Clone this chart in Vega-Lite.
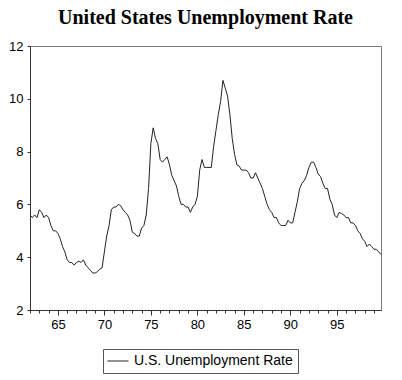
{
  "$schema": "https://vega.github.io/schema/vega-lite/v6.json",
  "width": 351,
  "height": 264,
  "autosize": {"type": "none"},
  "padding": {"left": 30, "top": 46, "right": 21, "bottom": 70},
  "background": "white",
  "title": {
    "text": "United States Unemployment Rate",
    "font": "Liberation Serif",
    "fontSize": 20,
    "fontWeight": "bold",
    "color": "#000",
    "anchor": "middle",
    "offset": 12
  },
  "config": {
    "view": {"stroke": "#777", "strokeWidth": 1},
    "axis": {
      "labelFont": "Liberation Sans",
      "labelFontSize": 13,
      "labelColor": "#000",
      "domainColor": "#333",
      "tickColor": "#333",
      "grid": false,
      "title": null
    }
  },
  "data": {
    "values": [
      {"t": 1962.00, "u": 5.6}, {"t": 1962.25, "u": 5.5}, {"t": 1962.50, "u": 5.6}, {"t": 1962.75, "u": 5.5},
      {"t": 1963.00, "u": 5.8}, {"t": 1963.25, "u": 5.7}, {"t": 1963.50, "u": 5.5}, {"t": 1963.75, "u": 5.6},
      {"t": 1964.00, "u": 5.5}, {"t": 1964.25, "u": 5.2}, {"t": 1964.50, "u": 5.0}, {"t": 1964.75, "u": 5.0},
      {"t": 1965.00, "u": 4.9}, {"t": 1965.25, "u": 4.7}, {"t": 1965.50, "u": 4.4}, {"t": 1965.75, "u": 4.2},
      {"t": 1966.00, "u": 3.9}, {"t": 1966.25, "u": 3.8}, {"t": 1966.50, "u": 3.8}, {"t": 1966.75, "u": 3.7},
      {"t": 1967.00, "u": 3.8}, {"t": 1967.25, "u": 3.85}, {"t": 1967.50, "u": 3.8}, {"t": 1967.75, "u": 3.9},
      {"t": 1968.00, "u": 3.7}, {"t": 1968.25, "u": 3.6}, {"t": 1968.50, "u": 3.5}, {"t": 1968.75, "u": 3.4},
      {"t": 1969.00, "u": 3.4}, {"t": 1969.25, "u": 3.45}, {"t": 1969.50, "u": 3.55}, {"t": 1969.75, "u": 3.6},
      {"t": 1970.00, "u": 4.2}, {"t": 1970.25, "u": 4.8}, {"t": 1970.50, "u": 5.2}, {"t": 1970.75, "u": 5.8},
      {"t": 1971.00, "u": 5.9}, {"t": 1971.25, "u": 5.9}, {"t": 1971.50, "u": 6.0}, {"t": 1971.75, "u": 5.95},
      {"t": 1972.00, "u": 5.8}, {"t": 1972.25, "u": 5.7}, {"t": 1972.50, "u": 5.6}, {"t": 1972.75, "u": 5.4},
      {"t": 1973.00, "u": 4.95}, {"t": 1973.25, "u": 4.9}, {"t": 1973.50, "u": 4.8}, {"t": 1973.75, "u": 4.8},
      {"t": 1974.00, "u": 5.1}, {"t": 1974.25, "u": 5.2}, {"t": 1974.50, "u": 5.6}, {"t": 1974.75, "u": 6.6},
      {"t": 1975.00, "u": 8.3}, {"t": 1975.25, "u": 8.9}, {"t": 1975.50, "u": 8.5}, {"t": 1975.75, "u": 8.3},
      {"t": 1976.00, "u": 7.7}, {"t": 1976.25, "u": 7.6}, {"t": 1976.50, "u": 7.7}, {"t": 1976.75, "u": 7.8},
      {"t": 1977.00, "u": 7.5}, {"t": 1977.25, "u": 7.1}, {"t": 1977.50, "u": 6.9}, {"t": 1977.75, "u": 6.7},
      {"t": 1978.00, "u": 6.3}, {"t": 1978.25, "u": 6.0}, {"t": 1978.50, "u": 6.0}, {"t": 1978.75, "u": 5.9},
      {"t": 1979.00, "u": 5.9}, {"t": 1979.25, "u": 5.7}, {"t": 1979.50, "u": 5.9}, {"t": 1979.75, "u": 6.0},
      {"t": 1980.00, "u": 6.3}, {"t": 1980.25, "u": 7.3}, {"t": 1980.50, "u": 7.7}, {"t": 1980.75, "u": 7.4},
      {"t": 1981.00, "u": 7.4}, {"t": 1981.25, "u": 7.4}, {"t": 1981.50, "u": 7.4}, {"t": 1981.75, "u": 8.2},
      {"t": 1982.00, "u": 8.8}, {"t": 1982.25, "u": 9.4}, {"t": 1982.50, "u": 9.9}, {"t": 1982.75, "u": 10.7},
      {"t": 1983.00, "u": 10.4}, {"t": 1983.25, "u": 10.1}, {"t": 1983.50, "u": 9.4}, {"t": 1983.75, "u": 8.5},
      {"t": 1984.00, "u": 7.9}, {"t": 1984.25, "u": 7.5}, {"t": 1984.50, "u": 7.45}, {"t": 1984.75, "u": 7.3},
      {"t": 1985.00, "u": 7.3}, {"t": 1985.25, "u": 7.3}, {"t": 1985.50, "u": 7.2}, {"t": 1985.75, "u": 7.0},
      {"t": 1986.00, "u": 7.0}, {"t": 1986.25, "u": 7.2}, {"t": 1986.50, "u": 7.0}, {"t": 1986.75, "u": 6.8},
      {"t": 1987.00, "u": 6.6}, {"t": 1987.25, "u": 6.3}, {"t": 1987.50, "u": 6.0}, {"t": 1987.75, "u": 5.8},
      {"t": 1988.00, "u": 5.7}, {"t": 1988.25, "u": 5.5}, {"t": 1988.50, "u": 5.5}, {"t": 1988.75, "u": 5.3},
      {"t": 1989.00, "u": 5.2}, {"t": 1989.25, "u": 5.2}, {"t": 1989.50, "u": 5.2}, {"t": 1989.75, "u": 5.4},
      {"t": 1990.00, "u": 5.3}, {"t": 1990.25, "u": 5.3}, {"t": 1990.50, "u": 5.7}, {"t": 1990.75, "u": 6.1},
      {"t": 1991.00, "u": 6.6}, {"t": 1991.25, "u": 6.8}, {"t": 1991.50, "u": 6.9}, {"t": 1991.75, "u": 7.1},
      {"t": 1992.00, "u": 7.4}, {"t": 1992.25, "u": 7.6}, {"t": 1992.50, "u": 7.6}, {"t": 1992.75, "u": 7.4},
      {"t": 1993.00, "u": 7.15}, {"t": 1993.25, "u": 7.05}, {"t": 1993.50, "u": 6.8}, {"t": 1993.75, "u": 6.6},
      {"t": 1994.00, "u": 6.6}, {"t": 1994.25, "u": 6.2}, {"t": 1994.50, "u": 6.0}, {"t": 1994.75, "u": 5.6},
      {"t": 1995.00, "u": 5.5}, {"t": 1995.25, "u": 5.7}, {"t": 1995.50, "u": 5.65}, {"t": 1995.75, "u": 5.6},
      {"t": 1996.00, "u": 5.5}, {"t": 1996.25, "u": 5.5}, {"t": 1996.50, "u": 5.3}, {"t": 1996.75, "u": 5.3},
      {"t": 1997.00, "u": 5.2}, {"t": 1997.25, "u": 5.0}, {"t": 1997.50, "u": 4.9}, {"t": 1997.75, "u": 4.7},
      {"t": 1998.00, "u": 4.6}, {"t": 1998.25, "u": 4.4}, {"t": 1998.50, "u": 4.5}, {"t": 1998.75, "u": 4.4},
      {"t": 1999.00, "u": 4.3}, {"t": 1999.25, "u": 4.3}, {"t": 1999.50, "u": 4.2}, {"t": 1999.75, "u": 4.1}
    ]
  },
  "mark": {"type": "line", "strokeWidth": 1, "interpolate": "linear"},
  "encoding": {
    "x": {
      "field": "t",
      "type": "quantitative",
      "scale": {"domain": [1962, 1999.75], "nice": false, "zero": false},
      "axis": {
        "values": [1962,1963,1964,1965,1966,1967,1968,1969,1970,1971,1972,1973,1974,1975,1976,1977,1978,1979,1980,1981,1982,1983,1984,1985,1986,1987,1988,1989,1990,1991,1992,1993,1994,1995,1996,1997,1998,1999],
        "labelExpr": "datum.value % 5 === 0 ? '' + (datum.value - 1900) : ''",
        "tickSize": {"condition": {"test": "datum.value % 5 === 0", "value": 5}, "value": 3},
        "labelPadding": 3,
        "labelOverlap": false
      }
    },
    "y": {
      "field": "u",
      "type": "quantitative",
      "scale": {"domain": [2, 12], "nice": false, "zero": false},
      "axis": {"values": [2, 4, 6, 8, 10, 12], "tickSize": 3, "labelPadding": 4}
    },
    "color": {
      "datum": "U.S. Unemployment Rate",
      "type": "nominal",
      "scale": {"range": ["#222"]},
      "legend": {
        "title": null,
        "orient": "none",
        "legendX": 73,
        "legendY": 303,
        "symbolType": "M-2.1,0H2.1",
        "symbolSize": 100,
        "symbolOffset": 3,
        "symbolStrokeWidth": 1,
        "labelOffset": 9,
        "labelFont": "Liberation Sans",
        "labelFontSize": 14,
        "labelColor": "#000",
        "strokeColor": "#555",
        "padding": 5,
        "fillColor": "white"
      }
    }
  }
}
